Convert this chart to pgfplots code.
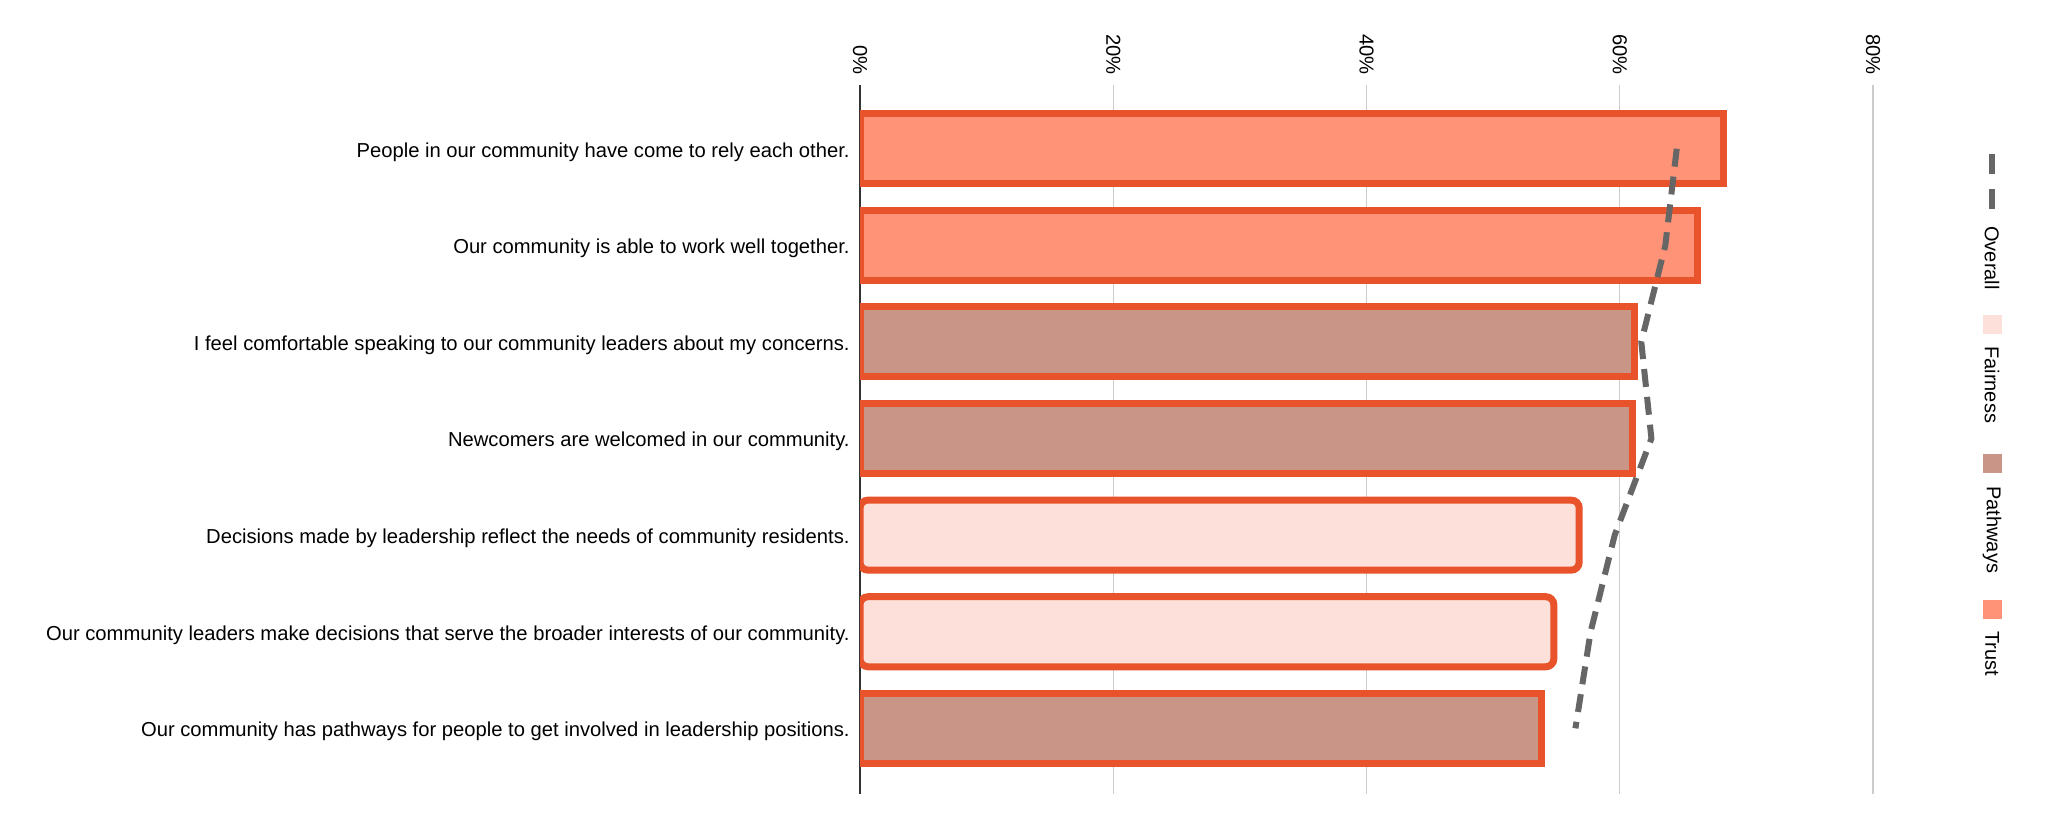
\documentclass[border=0pt]{standalone}
\usepackage{fontspec}
\setmainfont{Liberation Sans}
\usepackage{pgfplots}
\pgfplotsset{compat=1.18}
\definecolor{trust}{HTML}{FF9378}
\definecolor{pathways}{HTML}{C99587}
\definecolor{fairness}{HTML}{FDE0D9}
\definecolor{edge}{HTML}{E8532B}
\definecolor{overall}{HTML}{666666}
\definecolor{gridgray}{HTML}{CCCCCC}

\begin{document}
\begin{tikzpicture}
\useasboundingbox (0,0) rectangle (1024pt,418.5pt);
\begin{axis}[
  at={(430pt,21.5pt)}, anchor=south west,
  scale only axis, width=506.5pt, height=354.5pt,
  xmin=0, xmax=80, ymin=-0.66, ymax=6.68, y dir=reverse,
  xbar, bar width=0.725,
  axis line style={draw=none},
  xtick={0,20,40,60,80}, xticklabels={0\%,20\%,40\%,60\%,80\%},
  xticklabel pos=upper,
  extra x ticks={0}, extra x tick labels={},
  extra x tick style={grid style={draw=black!80, line width=0.7pt}},
  ytick={0,...,6},
  yticklabels={
    People in our community have come to rely each other.,
    Our community is able to work well together.,
    I feel comfortable speaking to our community leaders about my concerns.,
    Newcomers are welcomed in our community.,
    Decisions made by leadership reflect the needs of community residents.,
    Our community leaders make decisions that serve the broader interests of our community.,
    Our community has pathways for people to get involved in leadership positions.
  },
  major tick length=0pt,
  xmajorgrids, grid style={gridgray, line width=0.6pt},
  tick label style={font=\fontsize{10.1}{12}\selectfont, text=black},
  xticklabel style={rotate=-90, anchor=east, inner xsep=5pt},
  yticklabel style={anchor=east, inner xsep=5pt, yshift=-1.6pt},
]
% Trust
\addplot[bar shift=0pt, fill=trust, draw=edge, line width=3.5pt]
  coordinates {(68.2,0) (66.1,1)};
% Pathways
\addplot[bar shift=0pt, fill=pathways, draw=edge, line width=3.5pt]
  coordinates {(61.2,2) (61.0,3) (53.8,6)};
% Fairness
\addplot[bar shift=0pt, fill=fairness, draw=edge, line width=3.5pt, rounded corners=4pt]
  coordinates {(56.8,4) (54.8,5)};
% Overall
\addplot[sharp plot, mark=none, overall, line width=3pt, dash pattern=on 9pt off 5pt]
  coordinates {(64.5,0) (63.6,1) (61.7,2) (62.5,3) (59.6,4) (57.7,5) (56.5,6)};
\end{axis}

% legend, set vertically as in the reference
\begin{scope}[every node/.style={rotate=-90, anchor=west, inner sep=0pt,
    font=\fontsize{10}{12}\selectfont}]
  \draw[overall, line width=3pt, dash pattern=on 10pt off 7.5pt] (996pt,341.5pt) -- (996pt,314pt);
  \node at (996pt,305.5pt) {Overall};
  \fill[fairness] (991.25pt,251.5pt) rectangle (1000.75pt,261pt);
  \node at (996pt,245.5pt) {Fairness};
  \fill[pathways] (991.25pt,182.25pt) rectangle (1000.75pt,191.75pt);
  \node at (996pt,175.5pt) {Pathways};
  \fill[trust] (991.25pt,109.25pt) rectangle (1000.75pt,118.75pt);
  \node at (996pt,103pt) {Trust};
\end{scope}
\end{tikzpicture}
\end{document}
